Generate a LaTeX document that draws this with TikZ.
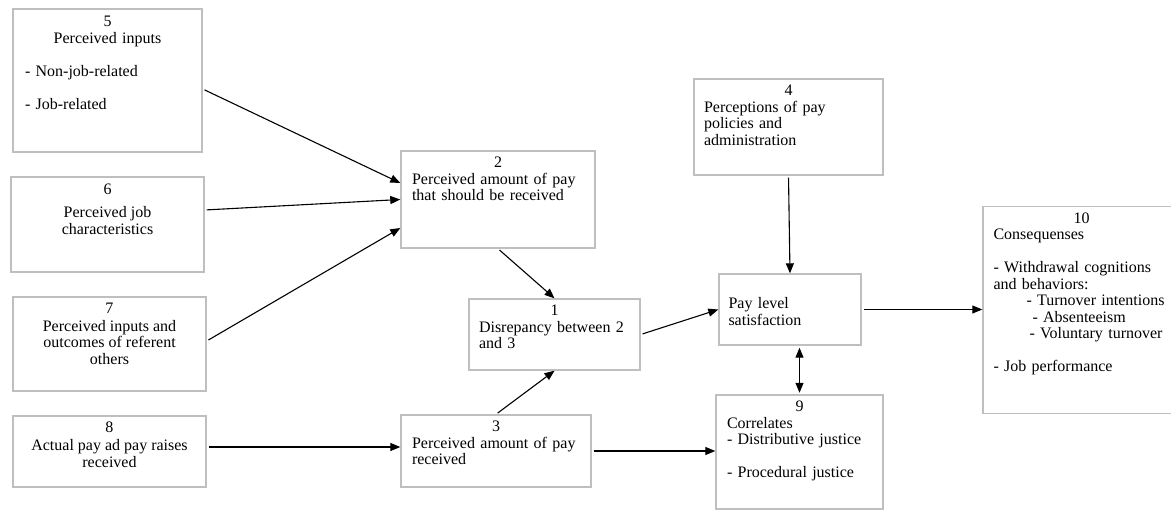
\documentclass[tikz,border=0pt]{standalone}
\usepackage{fontspec}
\setmainfont{Liberation Serif}
\usetikzlibrary{arrows.meta}
\newcommand{\centred}[1]{\hfill#1\hfill\null}

\begin{document}
\begin{tikzpicture}[x=1pt,y=-1pt,font=\fontsize{16}{16.5}\selectfont,
>={Triangle[length=10pt,width=8pt]},
box/.style={draw=black!25,line width=1.4pt,inner sep=0pt},
txt/.style={inner sep=0pt,align=left},
arr/.style={->,line width=1.1pt,shorten <=2pt}]
\useasboundingbox (0,0) rectangle (1171,511);
\node[box,minimum width=189pt,minimum height=143pt] (b5) at (107.5,80.5) {};
\node[box,minimum width=193pt,minimum height=95pt] (b6) at (107.5,224.5) {};
\node[box,minimum width=193pt,minimum height=94pt] (b7) at (109.5,344) {};
\node[box,minimum width=193pt,minimum height=71pt] (b8) at (109.5,451.5) {};
\node[box,minimum width=194pt,minimum height=97pt] (b2) at (498,199.5) {};
\node[box,minimum width=171pt,minimum height=71pt] (b1) at (554.5,334.5) {};
\node[box,minimum width=190pt,minimum height=72pt] (b3) at (496,451) {};
\node[box,minimum width=189pt,minimum height=96pt] (b4) at (788.5,127) {};
\node[box,minimum width=142pt,minimum height=71pt] (pay) at (790,309.5) {};
\node[box,minimum width=167pt,minimum height=114pt] (b9) at (799.5,452) {};
\node[box,minimum width=194pt,minimum height=207pt] (b10) at (1080,310) {};
\node[txt,anchor=north,text width=165pt] (t5) at ([yshift=-8pt]b5.north) {\centred{5}\\\centred{Perceived inputs}\\[16.5pt]- Non-job-related\\[16.5pt]- Job-related};
\node[txt,anchor=north,align=center] (t6) at ([yshift=-7.5pt]b6.north) {6\\[6.5pt]Perceived job\\characteristics};
\node[txt,anchor=north,align=center] (t7) at ([yshift=-6.5pt]b7.north) {7\\[1.5pt]Perceived inputs and\\outcomes of referent\\others};
\node[txt,anchor=north,align=center] (t8) at ([yshift=-6.5pt]b8.north) {8\\[1.5pt]Actual pay ad pay raises\\received};
\node[txt,anchor=north,text width=172pt] (t2) at ([yshift=-6.5pt]b2.north) {\centred{2}\\Perceived amount of pay\\that should be received};
\node[txt,anchor=north,text width=151pt] (t1) at ([yshift=-6.5pt]b1.north) {\centred{1}\\Disrepancy between 2\\and 3};
\node[txt,anchor=north,text width=168pt] (t3) at ([yshift=-6.5pt]b3.north) {\centred{3}\\Perceived amount of pay\\received};
\node[txt,anchor=north,text width=169pt] (t4) at ([yshift=-6.5pt]b4.north) {\centred{4}\\Perceptions of pay\\policies and\\administration};
\node[txt,anchor=north west,text width=122pt] (tpay) at ([xshift=10pt,yshift=-24pt]pay.north west) {Pay level\\satisfaction};
\node[txt,anchor=north,text width=145pt] (t9) at ([yshift=-6.5pt]b9.north) {\centred{9}\\Correlates\\- Distributive justice\\[16.5pt]- Procedural justice};
\node[txt,anchor=north west,text width=176pt] (t10) at ([xshift=11pt,yshift=-6.5pt]b10.north west) {\centred{10}\\Consequenses\\[16.5pt]- Withdrawal cognitions\\and behaviors:\\\hspace*{33pt}- Turnover intentions\\\hspace*{39pt}- Absenteeism\\\hspace*{36pt}- Voluntary turnover\\[16.5pt]- Job performance};
\draw[arr] ([yshift=-8.5pt]b5.east) -- ([yshift=16.5pt]b2.west); \draw[arr] ([yshift=14.5pt]b6.east) -- (b2.west); \draw[arr] ([yshift=3pt]b7.east) -- ([yshift=-28.5pt]b2.west);
\draw[arr] ([yshift=4.5pt]b8.east) -- ([yshift=4.5pt]b8.east -| b3.west); \draw[arr] (b2.south) -- (b1.north); \draw[arr] (b3.north) -- (b1.south);
\draw[arr] (b1.east) -- (pay.west); \draw[arr] (b3.east) -- (b3.east -| b9.west); \draw[arr] (b4.south) -- (pay.north);
\draw[arr] (pay.east) -- (pay.east -| b10.west); \draw[arr,<->,shorten >=1.5pt] (b9.north |- pay.south) -- (b9.north);
\end{tikzpicture}
\end{document}
